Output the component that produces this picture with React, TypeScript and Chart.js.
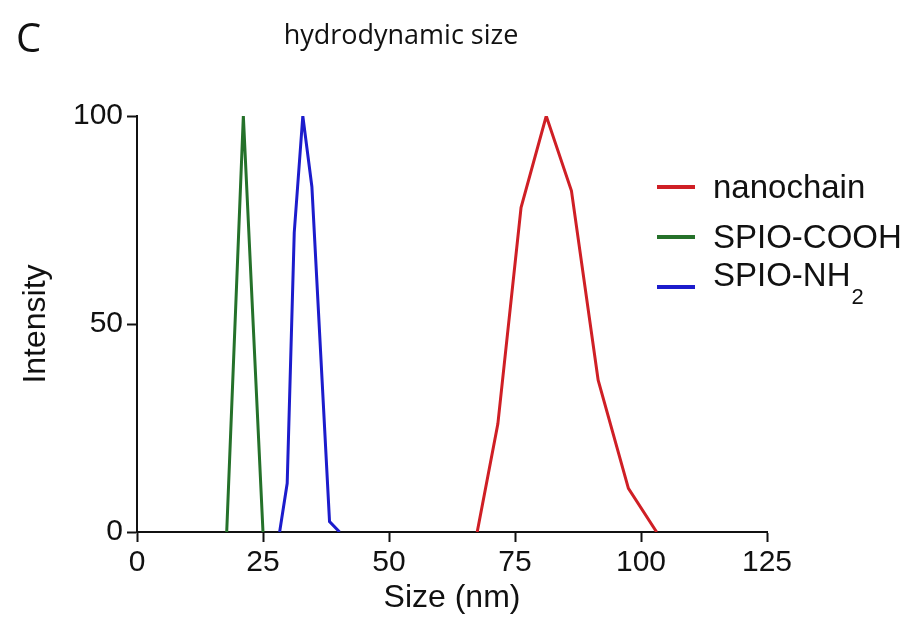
import React, { useEffect, useRef } from "react";
import { Chart, registerables } from "chart.js";

Chart.register(...registerables);

// Axis ticks
const sizeTicks = [0, 25, 50, 75, 100, 125];
const intensityTicks = [0, 50, 100];

// DLS intensity distributions (size in nm, intensity in %)
const nanochainSize = [67.5, 71.6, 76.2, 81.2, 86.2, 91.5, 97.5, 103.1];
const nanochainIntensity = [0, 26, 78, 100, 82, 36.5, 10.5, 0];

const coohSize = [17.8, 21.1, 25.0];
const coohIntensity = [0, 100, 0];

const nh2Size = [28.3, 29.8, 31.2, 32.9, 34.7, 38.2, 40.2];
const nh2Intensity = [0, 11.7, 72, 100, 83, 2.5, 0];

const seriesNames = ["nanochain", "SPIO-COOH", "SPIO-NH"];
const seriesSubscripts = ["", "", "2"];
const seriesColors = ["#cf1f25", "#25712a", "#1c1ccc"];

const TICK_FONT = "'Liberation Sans', Arial, sans-serif";
const TITLE_FONT = "'Open Sans', 'Liberation Sans', sans-serif";

const toPoints = (xs: number[], ys: number[]) => xs.map((x, i) => ({ x, y: ys[i] }));

// Panel letter, chart heading and the line legend (with subscript support)
const annotations = {
  id: "annotations",
  afterDraw(chart: any) {
    const { ctx, chartArea } = chart;
    ctx.save();
    ctx.fillStyle = "#111";
    ctx.textBaseline = "alphabetic";
    ctx.textAlign = "left";
    ctx.font = `40px ${TITLE_FONT}`;
    ctx.fillText("C", 16, 52);
    ctx.textAlign = "center";
    ctx.font = `27px ${TITLE_FONT}`;
    ctx.fillText("hydrodynamic size", 401, 44);

    const lineX0 = chartArea.right - 110;
    const lineX1 = chartArea.right - 72;
    const textX = chartArea.right - 54;
    seriesNames.forEach((name, i) => {
      const y = chartArea.top + 71 + i * 50;
      ctx.strokeStyle = seriesColors[i];
      ctx.lineWidth = 4;
      ctx.beginPath();
      ctx.moveTo(lineX0, y);
      ctx.lineTo(lineX1, y);
      ctx.stroke();
      ctx.fillStyle = "#111";
      ctx.textAlign = "left";
      const baseY = y + (seriesSubscripts[i] ? -1 : 11);
      ctx.font = `33px ${TICK_FONT}`;
      ctx.fillText(name, textX, baseY);
      if (seriesSubscripts[i]) {
        const w = ctx.measureText(name).width;
        ctx.font = `22px ${TICK_FONT}`;
        ctx.fillText(seriesSubscripts[i], textX + w + 1, baseY + 18);
      }
    });
    ctx.restore();
  },
};

export default function App() {
  const canvasRef = useRef<HTMLCanvasElement | null>(null);

  useEffect(() => {
    if (!canvasRef.current) return;
    const axisGrid = {
      display: true,
      drawOnChartArea: false,
      drawTicks: true,
      tickLength: 10,
      tickWidth: 2,
      tickColor: "#111",
    };
    const chart = new Chart(canvasRef.current, {
      type: "line",
      data: {
        datasets: [
          {
            label: "nanochain",
            data: toPoints(nanochainSize, nanochainIntensity),
            borderColor: seriesColors[0],
          },
          {
            label: "SPIO-COOH",
            data: toPoints(coohSize, coohIntensity),
            borderColor: seriesColors[1],
          },
          {
            label: "SPIO-NH2",
            data: toPoints(nh2Size, nh2Intensity),
            borderColor: seriesColors[2],
          },
        ].map((d) => ({
          ...d,
          borderWidth: 3,
          pointRadius: 0,
          tension: 0,
          fill: false,
        })),
      },
      options: {
        animation: false,
        responsive: false,
        events: [],
        layout: { padding: { left: 0, top: 116, right: 146, bottom: 0 } },
        plugins: {
          legend: { display: false },
          title: { display: false },
          tooltip: { enabled: false },
        },
        scales: {
          x: {
            type: "linear",
            min: sizeTicks[0],
            max: sizeTicks[sizeTicks.length - 1],
            afterBuildTicks: (scale: any) => {
              scale.ticks = sizeTicks.map((v) => ({ value: v }));
            },
            afterFit: (scale: any) => {
              scale.height = 96;
            },
            grid: axisGrid,
            border: { display: true, color: "#111", width: 2 },
            ticks: {
              color: "#111",
              padding: 3,
              font: { family: TICK_FONT, size: 30 },
              maxRotation: 0,
            },
            title: {
              display: true,
              text: "Size (nm)",
              color: "#111",
              font: { family: TICK_FONT, size: 32 },
              padding: { top: 0, bottom: 11 },
            },
          },
          y: {
            type: "linear",
            min: intensityTicks[0],
            max: intensityTicks[intensityTicks.length - 1],
            afterBuildTicks: (scale: any) => {
              scale.ticks = intensityTicks.map((v) => ({ value: v }));
            },
            afterFit: (scale: any) => {
              scale.width = 137;
            },
            grid: axisGrid,
            border: { display: true, color: "#111", width: 2 },
            ticks: {
              color: "#111",
              padding: 4,
              font: { family: TICK_FONT, size: 30 },
            },
            title: {
              display: true,
              text: "Intensity",
              color: "#111",
              font: { family: TICK_FONT, size: 32 },
              padding: { top: 17, bottom: 0 },
            },
          },
        },
      },
      plugins: [annotations],
    });
    return () => chart.destroy();
  }, []);

  return (
    <div style={{ position: "absolute", left: 0, top: 0, width: 913, height: 628, background: "#fff" }}>
      <canvas ref={canvasRef} width={913} height={628} />
    </div>
  );
}
